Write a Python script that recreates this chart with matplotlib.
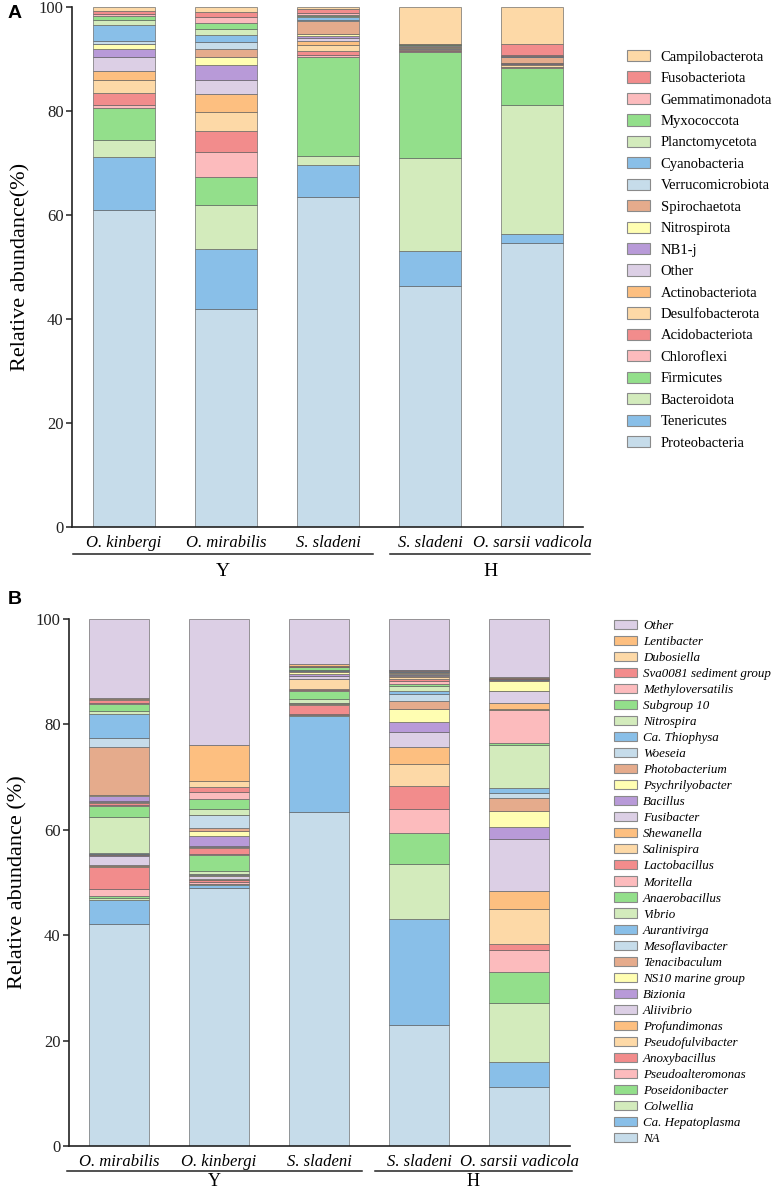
import numpy as np
import matplotlib.pyplot as plt
from matplotlib.patches import Patch

plt.rcParams['font.family'] = 'Liberation Serif'

W, H = 776, 1193

# 12 colour cycle used for the stacked layers (bottom -> top)
palette = ['#c6dcea', '#89bfe8', '#d3ebbc', '#93df8b', '#fcbbbd', '#f28c8c',
           '#fdd9a7', '#fdbf80', '#dccfe5', '#b89ad8', '#fffeb2', '#e5ab8c']

# ---------------- panel A : phylum level ----------------
phyla = ['Proteobacteria', 'Tenericutes', 'Bacteroidota', 'Firmicutes', 'Chloroflexi',
         'Acidobacteriota', 'Desulfobacterota', 'Actinobacteriota', 'Other', 'NB1-j',
         'Nitrospirota', 'Spirochaetota', 'Verrucomicrobiota', 'Cyanobacteria',
         'Planctomycetota', 'Myxococcota', 'Gemmatimonadota', 'Fusobacteriota',
         'Campilobacterota']
samples_a = ['O. kinbergi', 'O. mirabilis', 'S. sladeni', 'S. sladeni', 'O. sarsii vadicola']

# cumulative top of each layer (%), bottom to top
a_kinbergi = [60.9, 71.1, 74.4, 80.5, 81.1, 83.4, 85.9, 87.6, 90.3, 91.9,
              92.8, 92.9, 93.5, 96.5, 97.5, 98.3, 98.7, 99.2, 100]
a_mirabilis = [42.0, 53.4, 61.9, 67.3, 72.2, 76.2, 79.9, 83.2, 86.0, 88.8,
               90.4, 92.0, 93.3, 94.6, 95.7, 97.0, 98.0, 99.0, 100]
a_sladeni_y = [63.4, 69.6, 71.3, 90.4, 90.8, 91.6, 92.6, 93.4, 94.1, 94.5,
               94.9, 97.4, 97.5, 98.0, 98.2, 98.5, 98.8, 99.6, 100]
a_sladeni_h = [46.4, 53.0, 70.9, 91.3, 91.5, 91.7, 91.9, 92.0, 92.1, 92.2,
               92.3, 92.5, 92.6, 92.7, 92.75, 92.8, 92.85, 92.9, 100]
a_sarsii = [54.6, 56.3, 81.1, 88.3, 88.4, 88.5, 88.8, 89.0, 89.1, 89.2,
            89.3, 90.3, 90.4, 90.5, 90.55, 90.6, 90.7, 92.9, 100]

# ---------------- panel B : genus level ----------------
genera = ['NA', 'Ca. Hepatoplasma', 'Colwellia', 'Poseidonibacter', 'Pseudoalteromonas',
          'Anoxybacillus', 'Pseudofulvibacter', 'Profundimonas', 'Aliivibrio', 'Bizionia',
          'NS10 marine group', 'Tenacibaculum', 'Mesoflavibacter', 'Aurantivirga', 'Vibrio',
          'Anaerobacillus', 'Moritella', 'Lactobacillus', 'Salinispira', 'Shewanella',
          'Fusibacter', 'Bacillus', 'Psychrilyobacter', 'Photobacterium', 'Woeseia',
          'Ca. Thiophysa', 'Nitrospira', 'Subgroup 10', 'Methyloversatilis',
          'Sva0081 sediment group', 'Dubosiella', 'Lentibacter', 'Other']
samples_b = ['O. mirabilis', 'O. kinbergi', 'S. sladeni', 'S. sladeni', 'O. sarsii vadicola']

b_mirabilis = [42.2, 46.7, 47.1, 47.5, 48.7, 53.0, 53.2, 53.4, 55.0, 55.2,
               55.3, 55.4, 55.5, 55.6, 62.5, 64.5, 64.7, 65.0, 65.2, 65.3,
               65.4, 66.5, 66.6, 75.7, 77.5, 82.0, 82.6, 83.9, 84.0, 84.6,
               84.9, 85.1, 100]
b_kinbergi = [49.0, 49.5, 49.7, 49.8, 50.1, 50.4, 50.5, 50.6, 51.2, 51.3,
              51.4, 51.5, 51.6, 51.7, 52.1, 55.3, 55.5, 56.5, 56.7, 56.8,
              57.0, 58.9, 59.7, 60.4, 62.8, 62.9, 63.9, 65.9, 67.1, 68.2,
              69.2, 76.0, 100]
b_sladeni_y = [63.3, 81.6, 81.7, 81.8, 81.9, 83.75, 83.8, 83.85, 83.9, 83.95,
               84.0, 84.05, 84.1, 84.15, 84.75, 86.4, 86.5, 86.75, 88.6, 88.7,
               89.1, 89.5, 89.9, 90.1, 90.2, 90.3, 90.4, 90.8, 90.9, 91.0,
               91.1, 91.4, 100]
b_sladeni_h = [23.0, 43.0, 53.5, 59.3, 64.0, 68.4, 72.4, 75.7, 78.5, 80.4,
               82.9, 84.4, 85.7, 86.4, 87.2, 87.7, 88.2, 88.6, 88.9, 89.2,
               89.4, 89.6, 89.75, 89.9, 90.0, 90.05, 90.1, 90.2, 90.25, 90.3,
               90.35, 90.4, 100]
b_sarsii = [11.2, 16.0, 27.1, 33.0, 37.2, 38.3, 45.0, 48.4, 58.3, 60.5,
            63.5, 66.1, 66.9, 67.9, 76.0, 76.4, 82.7, 82.8, 82.9, 84.1,
            86.25, 86.3, 88.3, 88.4, 88.5, 88.55, 88.6, 88.65, 88.7, 88.75,
            88.8, 88.9, 100]

edge = (0.35, 0.35, 0.35, 0.7)


def px_ax(left, top, right, bottom):
    return [left / W, 1 - bottom / H, (right - left) / W, (bottom - top) / H]


def draw_panel(ax, cum_rows, taxa, samples, xlim, ylabel, italic_legend,
               leg_anchor, leg_kw, groups, ax_h_px, line_off, txt_off, grp_size):
    cum = np.array(cum_rows)
    heights = np.diff(cum, axis=1, prepend=0)
    bottoms = cum - heights
    x = np.arange(len(samples))
    for j in range(len(taxa)):
        ax.bar(x, heights[:, j], bottom=bottoms[:, j], width=0.6,
               color=palette[j % 12], edgecolor=edge, linewidth=0.6)
    ax.set_xlim(*xlim)
    ax.set_ylim(0, 100)
    ax.set_yticks([0, 20, 40, 60, 80, 100])
    ax.tick_params(axis='y', labelsize=12, length=4, width=1.1, pad=2, colors='#222')
    ax.set_xticks(x)
    ax.set_xticklabels(samples, fontstyle='italic', fontsize=12)
    ax.tick_params(axis='x', length=0, pad=6)
    for s in ['top', 'right']:
        ax.spines[s].set_visible(False)
    for s in ['left', 'bottom']:
        ax.spines[s].set_linewidth(1.2)
        ax.spines[s].set_color('#222')
    ax.set_ylabel(ylabel, fontsize=16, labelpad=6)

    # group underlines and labels (Y / H)
    trans = ax.get_xaxis_transform()
    for name, x0, x1 in groups:
        ax.plot([x0, x1], [-line_off / ax_h_px] * 2, color='#222', lw=1.1,
                transform=trans, clip_on=False)
        ax.text((x0 + x1) / 2, -txt_off / ax_h_px, name, transform=trans,
                ha='center', va='center', fontsize=grp_size)

    handles = [Patch(facecolor=palette[j % 12], edgecolor='#8a8a8a', linewidth=0.8,
                     label=taxa[j]) for j in range(len(taxa))][::-1]
    leg = ax.legend(handles=handles, loc='upper left', bbox_to_anchor=leg_anchor,
                    bbox_transform=fig.transFigure, frameon=False,
                    borderpad=0, borderaxespad=0, **leg_kw)
    if italic_legend:
        for t in leg.get_texts():
            t.set_fontstyle('italic')


fig = plt.figure(figsize=(W / 100, H / 100), dpi=100)

ax_a = fig.add_axes(px_ax(72, 7, 583, 527))
draw_panel(ax_a, [a_kinbergi, a_mirabilis, a_sladeni_y, a_sladeni_h, a_sarsii],
           phyla, samples_a, (-0.51, 4.5), 'Relative abundance(%)', False,
           (627 / W, 1 - 50 / H),
           dict(fontsize=10.5, labelspacing=0.535, handlelength=1.6,
                handleheight=0.8, handletextpad=0.7),
           [('Y', -0.5, 2.44), ('H', 2.61, 4.57)], 520, 27, 45, 14)

ax_b = fig.add_axes(px_ax(69, 619, 570, 1146))
draw_panel(ax_b, [b_mirabilis, b_kinbergi, b_sladeni_y, b_sladeni_h, b_sarsii],
           genera, samples_b, (-0.5, 4.51), 'Relative abundance (%)', True,
           (614 / W, 1 - 619.5 / H),
           dict(fontsize=9.4, labelspacing=0.30, handlelength=1.76,
                handleheight=0.7, handletextpad=0.45),
           [('Y', -0.52, 2.43), ('H', 2.56, 4.53)], 527, 25, 36, 13)

fig.text(8 / W, 1 - 13 / H, 'A', fontsize=14, fontweight='bold',
         family='Liberation Sans', va='center')
fig.text(8 / W, 1 - 600 / H, 'B', fontsize=14, fontweight='bold',
         family='Liberation Sans', va='center')

fig.savefig('out.png', dpi=100, facecolor='white')
